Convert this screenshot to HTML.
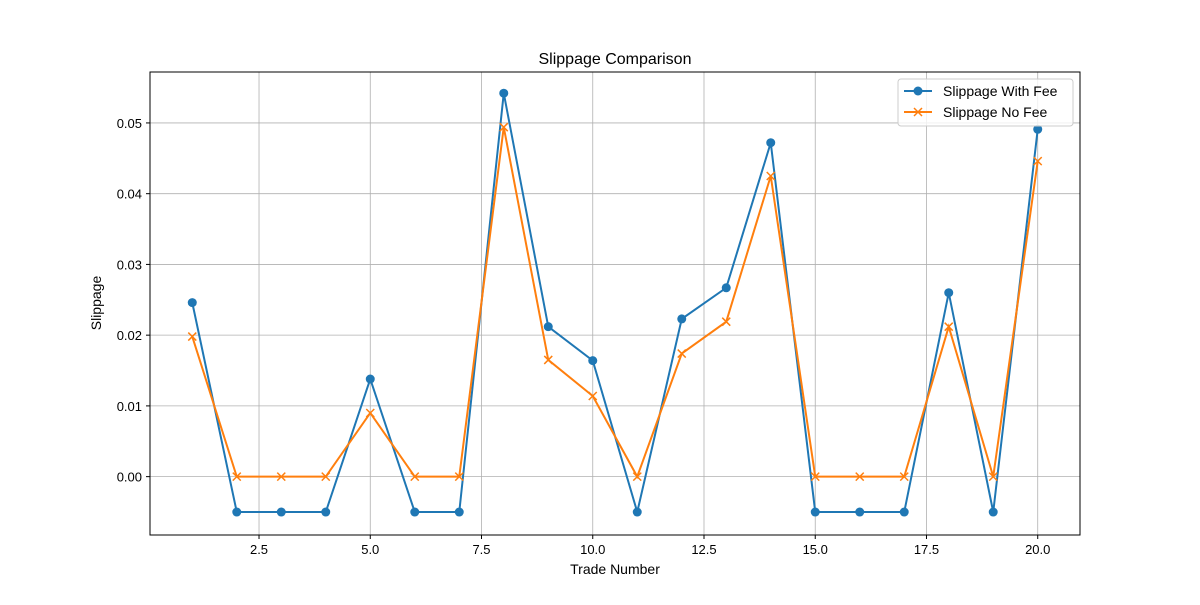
<!DOCTYPE html>
<html><head><meta charset="utf-8"><style>
html,body{margin:0;padding:0;background:#fff;}
svg text{font-family:"Liberation Sans","DejaVu Sans",sans-serif;}
</style></head><body>
<svg id="chart" width="1200" height="600" xmlns="http://www.w3.org/2000/svg">
<rect width="1200" height="600" fill="#fff"/>
<g id="grid"></g>
<g id="ticks"></g>
<g id="series"></g>
<rect x="150" y="72" width="930" height="463" fill="none" stroke="#000" stroke-width="1"/>
<text x="615" y="64" text-anchor="middle" font-size="16">Slippage Comparison</text>
<text x="615" y="574" text-anchor="middle" font-size="14">Trade Number</text>
<text x="101" y="303" text-anchor="middle" font-size="14" transform="rotate(-90 101 303)">Slippage</text>
<g>
<rect x="898" y="79" width="175" height="47" rx="3" fill="#fff" fill-opacity="0.8" stroke="#ccc"/>
<g>
<line x1="904" y1="91" x2="932" y2="91" stroke="#1f77b4" stroke-width="2"/>
<circle cx="918" cy="91" r="4.5" fill="#1f77b4"/>
<text x="943" y="96" font-size="14">Slippage With Fee</text></g>
<g>
<line x1="904" y1="112" x2="932" y2="112" stroke="#ff7f0e" stroke-width="2"/>
<path d="M914,108 L922,116 M914,116 L922,108" stroke="#ff7f0e" stroke-width="1.5"/>
<text x="943" y="117" font-size="14">Slippage No Fee</text></g>
</g>
</svg>
<script>
const trades=[1,2,3,4,5,6,7,8,9,10,11,12,13,14,15,16,17,18,19,20];
const withFee=[0.0246,-0.005,-0.005,-0.005,0.0138,-0.005,-0.005,0.0542,0.0212,0.0164,-0.005,0.0223,0.0267,0.0472,-0.005,-0.005,-0.005,0.026,-0.005,0.0491];
const noFee=[0.0198,0,0,0,0.009,0,0,0.0494,0.0165,0.0114,0,0.0174,0.0219,0.0425,0,0,0,0.0212,0,0.0446];
const xTicks=[2.5,5.0,7.5,10.0,12.5,15.0,17.5,20.0];
const yTicks=[0,0.01,0.02,0.03,0.04,0.05];

const NS="http://www.w3.org/2000/svg";
const L=150,R=1080,T=72,B=535;
const xMin=0.05,xMax=20.95,yMin=-0.00825,yMax=0.0572;
const xs=v=>L+(v-xMin)/(xMax-xMin)*(R-L);
const ys=v=>B-(v-yMin)/(yMax-yMin)*(B-T);
function mk(tag,attrs,parent){const e=document.createElementNS(NS,tag);for(const k in attrs)e.setAttribute(k,attrs[k]);parent.appendChild(e);return e;}
const grid=document.getElementById('grid'),ticks=document.getElementById('ticks'),series=document.getElementById('series');
xTicks.forEach(t=>{const x=xs(t);
 const g=mk('line',{x1:x,x2:x,y1:T,y2:B,stroke:'#b0b0b0','stroke-width':0.8},grid);
 
 
 mk('line',{x1:x,x2:x,y1:B,y2:B+4,stroke:'#000'},ticks);
 const tx=mk('text',{x:x,y:B+19,'text-anchor':'middle','font-size':13},ticks);tx.textContent=t.toFixed(1);
 
 
});
yTicks.forEach(t=>{const y=ys(t);
 const g=mk('line',{x1:L,x2:R,y1:y,y2:y,stroke:'#b0b0b0','stroke-width':0.8},grid);
 
 
 mk('line',{x1:L-4,x2:L,y1:y,y2:y,stroke:'#000'},ticks);
 const tx=mk('text',{x:L-8,y:y+5,'text-anchor':'end','font-size':13},ticks);tx.textContent=t.toFixed(2);
 
 
});
function drawLine(vals,color,name){
 const p=mk('polyline',{points:trades.map((t,i)=>xs(t)+','+ys(vals[i])).join(' '),fill:'none',stroke:color,'stroke-width':2},series);
 
 
}
drawLine(withFee,'#1f77b4','with-fee');
drawLine(noFee,'#ff7f0e','no-fee');
trades.forEach((t,i)=>{
 const c=mk('circle',{cx:xs(t),cy:ys(withFee[i]),r:4.5,fill:'#1f77b4'},series);
 
 
 const x=xs(t),y=ys(noFee[i]);
 const m=mk('path',{d:`M${x-4},${y-4} L${x+4},${y+4} M${x-4},${y+4} L${x+4},${y-4}`,stroke:'#ff7f0e','stroke-width':1.5},series);
 
 
});
</script>
</body></html>
